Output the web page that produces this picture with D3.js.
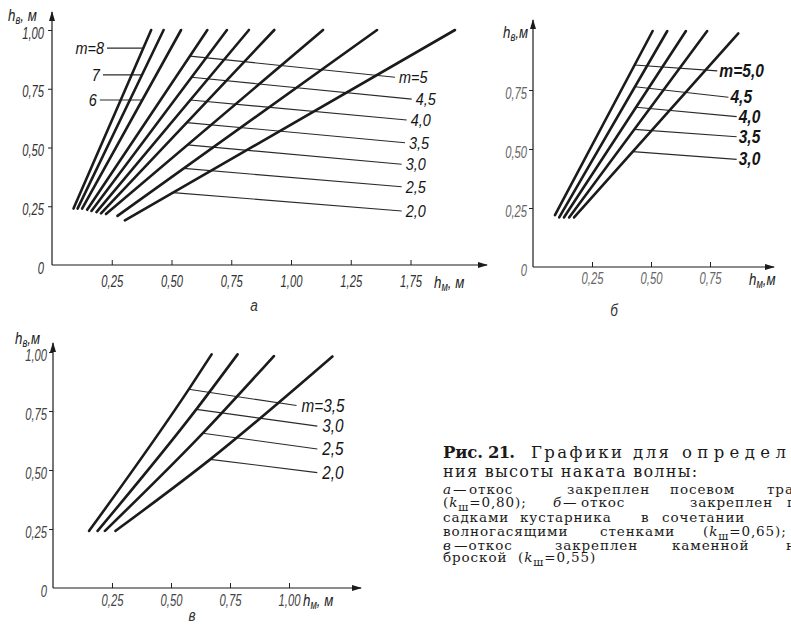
<!DOCTYPE html>
<html>
<head>
<meta charset="utf-8">
<script src="https://cdn.jsdelivr.net/npm/d3@7"></script>
<style>
  body { margin: 0; background: #fff; }
  svg { display: block; }
  .tick text { font-family: "Liberation Sans", "DejaVu Sans", sans-serif; font-style: italic; font-size: 17px; }
  .tick line { stroke: #222; }
</style>
</head>
<body>
<svg width="791" height="632"></svg>
<script>
// ---- panel а: slope lines m = 8 ... 2,0 (h_м, h_в in metres)
const slopesA = ["8", "7", "6", "5", "4,5", "4,0", "3,5", "3,0", "2,5", "2,0"];
const linesA = [
  [[0.090, 0.240], [0.415, 1.0]],
  [[0.107, 0.240], [0.467, 1.0]],
  [[0.126, 0.240], [0.540, 1.0]],
  [[0.147, 0.235], [0.650, 1.0]],
  [[0.165, 0.230], [0.732, 1.0]],
  [[0.186, 0.225], [0.824, 1.0]],
  [[0.205, 0.220], [0.930, 1.0]],
  [[0.226, 0.217], [1.134, 1.0]],
  [[0.274, 0.209], [1.360, 1.0]],
  [[0.305, 0.190], [1.686, 1.0]]
];
// leaders on the left side: line index, h_в where it meets the line, left end h_м
const leftLeadA = [
  { i: 0, h: 0.923, x: 0.230, t: "m=8" },
  { i: 1, h: 0.809, x: 0.213, t: "7" },
  { i: 2, h: 0.702, x: 0.200, t: "6" }
];
// leaders on the right side: line index, h_в on the line, end point
const rightLeadA = [
  { i: 3, h: 0.889, end: [1.435, 0.799], t: "m=5" },
  { i: 4, h: 0.799, end: [1.505, 0.706], t: "4,5" },
  { i: 5, h: 0.702, end: [1.484, 0.617], t: "4,0" },
  { i: 6, h: 0.606, end: [1.477, 0.520], t: "3,5" },
  { i: 7, h: 0.511, end: [1.463, 0.429], t: "3,0" },
  { i: 8, h: 0.411, end: [1.463, 0.333], t: "2,5" },
  { i: 9, h: 0.308, end: [1.463, 0.230], t: "2,0" }
];
const xTicksA = [0.25, 0.5, 0.75, 1.0, 1.25, 1.5];
const xLabelsA = ["0,25", "0,50", "0,75", "1,00", "1,25", "1,75"]; // as printed
const yTicksA = [0, 0.25, 0.5, 0.75, 1.0];
const yLabelsA = ["0", "0,25", "0,50", "0,75", "1,00"];

// ---- panel б
const slopesB = ["5,0", "4,5", "4,0", "3,5", "3,0"];
const linesB = [
  [[0.093, 0.22], [0.507, 1.0]],
  [[0.111, 0.21], [0.569, 1.0]],
  [[0.131, 0.21], [0.648, 1.0]],
  [[0.153, 0.21], [0.738, 1.0]],
  [[0.174, 0.21], [0.870, 0.99]]
];
const rightLeadB = [
  { i: 0, h: 0.856, end: [0.781, 0.831], t: "m=5,0" },
  { i: 1, h: 0.764, end: [0.828, 0.719], t: "4,5" },
  { i: 2, h: 0.677, end: [0.863, 0.637], t: "4,0" },
  { i: 3, h: 0.583, end: [0.863, 0.552], t: "3,5" },
  { i: 4, h: 0.489, end: [0.863, 0.456], t: "3,0" }
];
const xTicksB = [0.25, 0.5, 0.75];
const xLabelsB = ["0,25", "0,50", "0,75"];
const yTicksB = [0, 0.25, 0.5, 0.75];
const yLabelsB = ["0", "0,25", "0,50", "0,75"];

// ---- panel в (slightly bent lines)
const slopesC = ["3,5", "3,0", "2,5", "2,0"];
const linesC = [
  [[0.153, 0.242], [0.578, 0.846], [0.672, 0.990]],
  [[0.189, 0.242], [0.608, 0.758], [0.782, 0.990]],
  [[0.220, 0.242], [0.630, 0.651], [0.936, 0.983]],
  [[0.265, 0.242], [0.666, 0.545], [1.184, 0.981]]
];
const rightLeadC = [
  { i: 0, h: 0.842, end: [1.032, 0.773], t: "m=3,5" },
  { i: 1, h: 0.757, end: [1.120, 0.686], t: "3,0" },
  { i: 2, h: 0.656, end: [1.120, 0.589], t: "2,5" },
  { i: 3, h: 0.545, end: [1.120, 0.489], t: "2,0" }
];
const xTicksC = [0.25, 0.5, 0.75, 1.0];
const xLabelsC = ["0,25", "0,50", "0,75", "1,00"];
const yTicksC = [0, 0.25, 0.5, 0.75, 1.0];
const yLabelsC = ["0", "0,25", "0,50", "0,75", "1,00"];

const ink = "#1b1b1b";
const labelFont = '"Liberation Sans", "DejaVu Sans", sans-serif';
const SQ = 0.66; // the printed digits are tall and narrow

var svg = d3.select("svg");
svg.append("rect").attr("width", 791).attr("height", 632).attr("fill", "#fff");

svg.append("defs").append("marker")
  .attr("id", "arr")
  .attr("viewBox", "0 0 10 6")
  .attr("refX", 9).attr("refY", 3)
  .attr("markerWidth", 10).attr("markerHeight", 6)
  .attr("markerUnits", "userSpaceOnUse")
  .attr("orient", "auto")
  .append("path").attr("d", "M0,0L10,3L0,6Z").attr("fill", ink);

// h_м at which a line reaches h_в = h
function xAt(pts, h) {
  for (let k = 1; k < pts.length; k++) {
    const a = pts[k - 1], b = pts[k];
    if (h >= a[1] && h <= b[1]) return a[0] + (h - a[1]) / (b[1] - a[1]) * (b[0] - a[0]);
  }
  return pts[pts.length - 1][0];
}

// narrow italic label
function nlabel(g, x, y, str, size, sx, anchor, fill) {
  return g.append("text")
    .attr("transform", `translate(${x},${y}) scale(${sx},1)`)
    .attr("text-anchor", anchor || "start")
    .attr("font-family", labelFont).attr("font-style", "italic")
    .attr("font-size", size).attr("fill", fill || "#151515")
    .text(str);
}

function unitLabel(g, x, y, sub, rest) {
  var t = nlabel(g, x, y, null, 17, 0.78, "start", "#222");
  t.append("tspan").text("h");
  t.append("tspan").attr("dy", 3).attr("font-size", 12).text(sub);
  t.append("tspan").attr("dy", -3).text(rest);
}

function panel(p) {
  var g = svg.append("g");
  var x = d3.scaleLinear().domain(p.xDom).range(p.xRange);
  var y = d3.scaleLinear().domain([0, 1]).range(p.yRange);

  // axes
  var xAxis = d3.axisBottom(x).tickValues(p.xTicks)
    .tickFormat((d, i) => p.xLabels[i]).tickSizeInner(-5).tickSizeOuter(0);
  var gx = g.append("g").attr("transform", `translate(0,${y(0)})`).call(xAxis);
  gx.select(".domain").remove();
  gx.selectAll("text").attr("y", p.xLabelY).attr("dy", 0)
    .attr("fill", p.tickFill).attr("transform", `scale(${SQ},1)`);

  var yAxis = d3.axisLeft(y).tickValues(p.yTicks)
    .tickFormat((d, i) => p.yLabels[i]).tickSize(4).tickPadding(p.yPad).tickSizeOuter(0);
  var gy = g.append("g").attr("transform", `translate(${x(0)},0)`).call(yAxis);
  gy.select(".domain").remove();
  gy.selectAll(".tick").filter(d => d === 0).select("line").remove();
  gy.selectAll("text").attr("dy", "0.47em").attr("x", -(4 + p.yPad) / SQ)
    .attr("fill", p.tickFill).attr("transform", `scale(${SQ},1)`);

  g.append("line")
    .attr("x1", x(0)).attr("y1", y(0)).attr("x2", p.xEnd).attr("y2", y(0))
    .attr("stroke", ink).attr("stroke-width", 1.2).attr("marker-end", "url(#arr)");
  g.append("line")
    .attr("x1", x(0)).attr("y1", y(0)).attr("x2", x(0)).attr("y2", p.yTop)
    .attr("stroke", ink).attr("stroke-width", 1.2).attr("marker-end", "url(#arr)");

  unitLabel(g, p.yTitle[0], p.yTitle[1], "в", p.yTitle[2]);
  unitLabel(g, p.xTitle[0], p.xTitle[1], "м", p.xTitle[2]);

  // leaders (thin) under the thick lines
  var line = d3.line().x(d => x(d[0])).y(d => y(d[1])).curve(d3.curveMonotoneX);
  p.right.forEach(function(r) {
    var sx = xAt(p.lines[r.i], r.h);
    g.append("line")
      .attr("x1", x(sx)).attr("y1", y(r.h))
      .attr("x2", x(r.end[0])).attr("y2", y(r.end[1]))
      .attr("stroke", "#2a2a2a").attr("stroke-width", 1.1);
    nlabel(g, x(r.end[0]) + p.labelGap, y(r.end[1]) + 6, r.t, p.mSize, p.mSq)
      .attr("font-weight", p.mWeight || "normal");
  });
  (p.left || []).forEach(function(r) {
    var sx = xAt(p.lines[r.i], r.h);
    g.append("line")
      .attr("x1", x(r.x)).attr("y1", y(r.h))
      .attr("x2", x(sx)).attr("y2", y(r.h))
      .attr("stroke", "#2a2a2a").attr("stroke-width", 1.1);
    nlabel(g, x(r.x) - 3, y(r.h) + 6, r.t, p.mSize, p.mSq, "end");
  });

  g.selectAll("path.m").data(p.lines).enter().append("path")
    .attr("class", "m")
    .attr("d", line)
    .attr("fill", "none").attr("stroke", ink)
    .attr("stroke-width", 2.6).attr("stroke-linecap", "round");

  nlabel(g, p.letter[0], p.letter[1], p.letter[2], 17, 0.8, "middle", "#333");
}

panel({
  xDom: [0, 1.5], xRange: [52, 410.5], yRange: [265, 30],
  xTicks: xTicksA, xLabels: xLabelsA, yTicks: yTicksA, yLabels: yLabelsA,
  xLabelY: 22, yPad: 4, xEnd: 487, yTop: 12, tickFill: "#333",
  yTitle: [8, 21, ", м"], xTitle: [434, 288, ", м"],
  lines: linesA, right: rightLeadA, left: leftLeadA, labelGap: 4,
  mSize: 17, mSq: 0.85,
  letter: [254, 311, "а"]
});
panel({
  xDom: [0, 0.75], xRange: [533, 710], yRange: [267, 31],
  xTicks: xTicksB, xLabels: xLabelsB, yTicks: yTicksB, yLabels: yLabelsB,
  xLabelY: 17, yPad: 2, xEnd: 774, yTop: 20, tickFill: "#666",
  yTitle: [503, 38, ",м"], xTitle: [749, 285, ",м"],
  lines: linesB, right: rightLeadB, labelGap: 2,
  mSize: 19, mSq: 0.82, mWeight: "bold",
  letter: [614, 316, "б"]
});
panel({
  xDom: [0, 1], xRange: [53, 289], yRange: [588, 352],
  xTicks: xTicksC, xLabels: xLabelsC, yTicks: yTicksC, yLabels: yLabelsC,
  xLabelY: 18, yPad: 2, xEnd: 361, yTop: 343, tickFill: "#444",
  yTitle: [15, 344, ",м"], xTitle: [303, 606, ", м"],
  lines: linesC, right: rightLeadC, labelGap: 5,
  mSize: 18, mSq: 0.85,
  letter: [192, 621, "в"]
});

// ---- caption (justified lines, cut at the right edge as in the scan)
const captionFont = '"DejaVu Serif", "Liberation Serif", serif';
// line 1: [word, start, end] stretched to the printed width
const capHead = [["Рис.", 443, 483, "b"], ["21.", 488, 515, "b"], ["Графики", 531, 622], ["для", 633, 669], ["определе-", 682, 812]];
const capLines = [
  { y: 477, size: 16, ls: 1.3, words: [["ния высоты наката волны:", 443]] },
  { y: 494, size: 13.5, ls: 0.9, words: [["а", 443, "i"], ["—", 453], ["откос", 469], ["закреплен", 567], ["посевом", 670], ["трав", 767]] },
  { y: 507, size: 13.5, ls: 0.9, words: [["(k_ш=0,80);", 443], ["б", 553, "i"], ["—", 563], ["откос", 581], ["закреплен", 690], ["по-", 787]] },
  { y: 522, size: 13.5, ls: 0.9, words: [["садками", 443], ["кустарника", 520], ["в", 641], ["сочетании", 662]] },
  { y: 536, size: 13.5, ls: 0.9, words: [["волногасящими", 443], ["стенками", 600], ["(k_ш=0,65);", 703]] },
  { y: 550, size: 13.5, ls: 0.9, words: [["в", 443, "i"], ["—откос", 454], ["закреплен", 555], ["каменной", 672], ["на-", 786]] },
  { y: 562, size: 13.5, ls: 0.9, words: [["броской", 443], ["(k_ш=0,55)", 518]] }
];

var cap = svg.append("g").attr("font-family", captionFont).attr("fill", "#1a1a1a");
capHead.forEach(function(w) {
  cap.append("text").attr("x", w[1]).attr("y", 458)
    .attr("font-size", 16.5)
    .attr("font-weight", w[3] === "b" ? "bold" : "normal")
    .attr("textLength", w[2] - w[1]).attr("lengthAdjust", "spacing")
    .text(w[0]);
});
capLines.forEach(function(l) {
  l.words.forEach(function(w) {
    var t = cap.append("text").attr("x", w[1]).attr("y", l.y)
      .attr("font-size", l.size).attr("letter-spacing", l.ls);
    if (w[2] === "i") t.attr("font-style", "italic");
    var parts = w[0].split("_");
    if (parts.length === 1) { t.text(w[0]); return; }
    // "(k_ш=..." : italic k with subscript ш
    t.append("tspan").text(parts[0].slice(0, -1));
    t.append("tspan").attr("font-style", "italic").text(parts[0].slice(-1));
    t.append("tspan").attr("dy", 4).attr("font-size", l.size * 0.8).text(parts[1][0]);
    t.append("tspan").attr("dy", -4).text(parts[1].slice(1));
  });
});
</script>
</body>
</html>
